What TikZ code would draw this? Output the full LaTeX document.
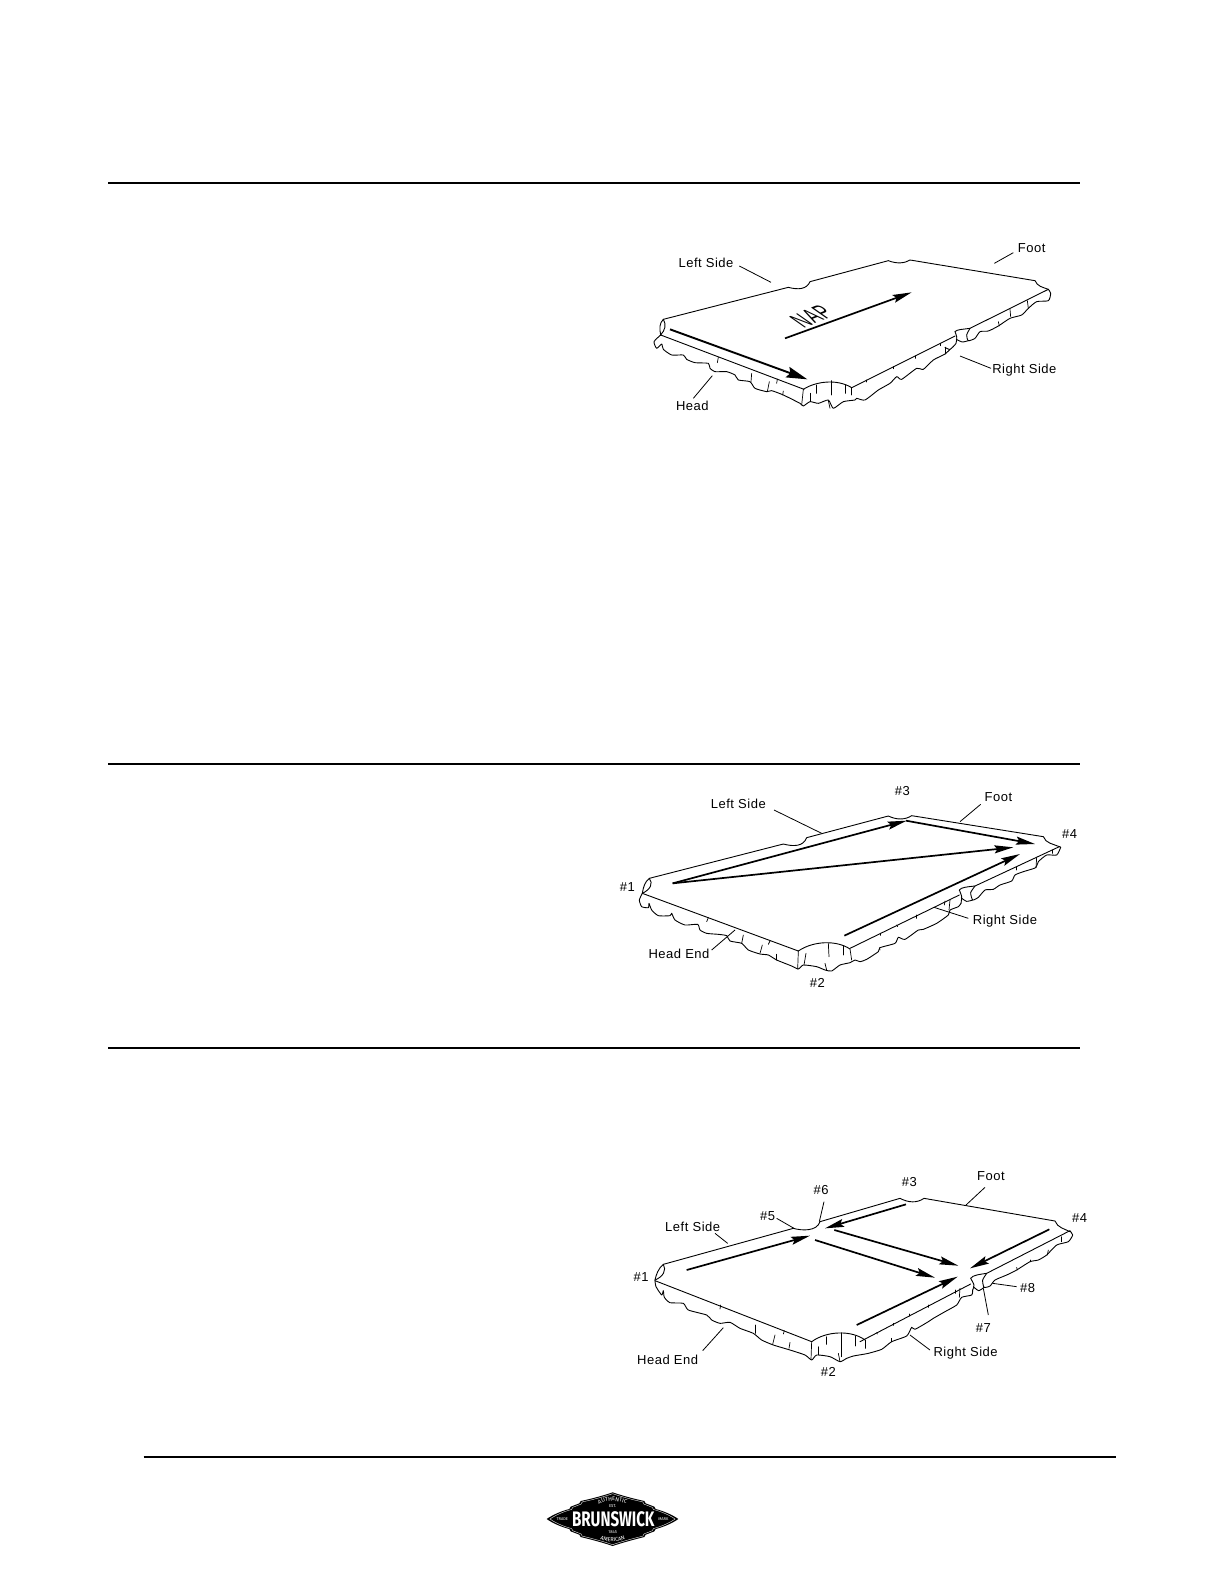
\documentclass[tikz,border=0pt]{standalone}
\usepackage{fontspec}
\setmainfont[LetterSpace=4]{Liberation Sans}
\newfontfamily\logofont{Fira Sans}
\usetikzlibrary{arrows.meta,decorations.text}
\tikzset{
  zoomunits/.style={x=0.33333pt,y=-0.33333pt},
  outline/.style={line width=0.9pt,line join=round,line cap=round,black},
  tickmark/.style={line width=0.7pt,line cap=round,black},
  leader/.style={line width=0.8pt,black},
  lbl/.style={font=\fontsize{13}{14}\selectfont,inner sep=0pt,black},
  flow/.style={line width=1.7pt,black,-{Stealth[length=19pt,width=8pt,inset=3pt]}},
  bigflow/.style={line width=1.9pt,black,-{Stealth[length=21pt,width=11pt,inset=3pt]}},
  rulebar/.style={line width=2pt,black},
  logotext/.style={inner sep=0pt,text=white},
}
\newcommand{\ticks}[1]{\foreach \a/\b/\c/\d in {#1} \draw[tickmark] (\a,\b)--(\c,\d);}
\newcommand{\logopath}{(50,117) .. controls (70,103) and (95,93) .. (118,87) -- (122,80) -- (148,70) -- (152,63) .. controls (190,55) and (225,45) .. (248,37) .. controls (271,45) and (306,55) .. (343,63) -- (347,70) -- (373,80) -- (377,87) .. controls (400,93) and (425,103) .. (445,117) .. controls (425,131) and (400,141) .. (377,147) -- (373,154) -- (347,164) -- (343,171) .. controls (306,180) and (271,190) .. (248,198) .. controls (225,190) and (190,180) .. (152,171) -- (148,164) -- (122,154) -- (118,147) .. controls (95,141) and (70,131) .. (50,117) -- cycle}
\begin{document}
\begin{tikzpicture}[x=1pt,y=-1pt]
\useasboundingbox (0,0) rectangle (1224,1584);
\fill[white] (0,0) rectangle (1224,1584);

% rules
\coordinate (r1a) at (108,183); \coordinate (r1b) at (1080,183);
\coordinate (r2a) at (108,764); \coordinate (r2b) at (1080,764);
\coordinate (r3a) at (108,1048); \coordinate (r3b) at (1080,1048);
\coordinate (r4a) at (143.5,1457); \coordinate (r4b) at (1116,1457);
\draw[rulebar] (r1a)--(r1b);
\draw[rulebar] (r2a)--(r2b);
\draw[rulebar] (r3a)--(r3b);
\draw[rulebar] (r4a)--(r4b);

% ===== Diagram 1 =====
\begin{scope}[shift={(630pt,-230pt)},zoomunits]
\draw[outline] (100,268) -- (475,172) .. controls (505,180) and (530,178) .. (540,155) -- (775,92) .. controls (800,102) and (825,100) .. (840,90) -- (1215,152) .. controls (1222,170) and (1240,172) .. (1255,178);
\draw[outline] (100,268) .. controls (88,280) and (88,295) .. (92,315);
\draw[outline] (100,268) .. controls (110,285) and (105,300) .. (92,315);
\draw[outline] (92,315) -- (522,478);
\draw[outline] (520,478) .. controls (555,455) and (620,445) .. (665,473);
\draw[outline] (665,473) -- (975,318);
\draw[outline] (975,305) .. controls (980,298) and (1000,298) .. (1020,295) -- (1255,178);
\draw[outline] plot[smooth,tension=.35] coordinates {(92,315)(72,335)(80,355)(95,342)(100,358)(125,375)(160,375)(170,388)(195,398)(235,400)(240,415)(255,425)(290,425)(315,435)(325,450)(360,455)(375,475)(410,485)(425,482)(460,495)(510,520)(520,528)(540,515)(565,520)(595,510)(610,535)(640,515)(675,510)(680,505)(705,510)(745,480)(780,460)(800,440)(815,448)(860,415)(880,418)(910,390)(945,372)(960,358)};
\draw[outline] plot[smooth,tension=.4] coordinates {(975,305)(980,320)(978,340)(960,358)(945,352)};
\draw[outline] plot[smooth,tension=.4] coordinates {(979,328)(997,336)(1015,332)};
\draw[outline] plot[smooth,tension=.4] coordinates {(1020,295)(1010,315)(1015,332)(1035,325)(1050,305)(1075,303)(1105,288)(1140,265)(1175,255)(1195,235)(1220,215)(1255,212)(1262,190)(1255,178)};
\ticks{265/382/262/398,365/430/363/455,418/455/412/485,442/447/440/460,460/483/458/495,520/478/515/525,560/465/560/490,605/452/605/495,645/465/645/490,540/490/540/515,595/512/600/535,665/473/665/495,708/450/708/456,790/410/790/416,855/378/855/385,930/340/930/347,945/352/945/372,1192/212/1195/235,1140/238/1142/260,1105/275/1108/288}
\coordinate (a1s) at (120,298); \coordinate (a1e) at (532,448);
\coordinate (a2s) at (465,325); \coordinate (a2e) at (845,187);
\draw[bigflow] (a1s)--(a1e);
\draw[flow] (a2s)--(a2e);
\node[font=\fontsize{16}{16}\selectfont,inner sep=0pt,cm={.93,.36,-1.43,1,(0,0)}] (nap) at (545,260) {NAP};
\node[lbl] (d1left) at (228,98) {Left Side};
\node[lbl] (d1foot) at (1205,53) {Foot};
\node[lbl] (d1right) at (1183,420) {Right Side};
\node[lbl] (d1head) at (187,527) {Head};
\coordinate (l1a) at (328,108); \coordinate (l1b) at (423,157);
\coordinate (l2a) at (1150,68); \coordinate (l2b) at (1093,100);
\coordinate (l3a) at (1083,415); \coordinate (l3b) at (990,378);
\coordinate (l4a) at (190,505); \coordinate (l4b) at (247,437);
\draw[leader] (l1a)--(l1b);
\draw[leader] (l2a)--(l2b);
\draw[leader] (l3a)--(l3b);
\draw[leader] (l4a)--(l4b);
\end{scope}

% ===== Diagram 2 =====
\begin{scope}[shift={(610pt,-770pt)},zoomunits]
\draw[outline] (118,325) -- (520,222) .. controls (550,230) and (580,230) .. (590,203) -- (835,138) .. controls (860,150) and (885,150) .. (905,137) -- (1300,200) .. controls (1307,220) and (1330,222) .. (1348,230);
\draw[outline] (118,325) .. controls (105,335) and (100,350) .. (97,370);
\draw[outline] (118,325) .. controls (130,340) and (122,358) .. (97,370);
\draw[outline] (97,370) -- (565,543);
\draw[outline] (565,543) .. controls (610,512) and (680,510) .. (720,537);
\draw[outline] (720,535) -- (1048,375);
\draw[outline] (1048,360) .. controls (1052,352) and (1075,350) .. (1095,348) -- (1348,230);
\draw[outline] plot[smooth,tension=.35] coordinates {(97,370)(88,390)(95,410)(115,413)(117,400)(125,420)(145,437)(180,437)(185,430)(195,450)(225,465)(263,463)(270,480)(290,490)(325,493)(350,497)(360,513)(395,520)(415,540)(450,552)(475,555)(500,570)(545,588)(565,597)(580,585)(620,590)(645,600)(665,603)(690,585)(720,578)(735,570)(750,575)(770,568)(805,545)(810,533)(855,520)(865,502)(885,508)(925,480)(940,478)(980,460)(1015,435)(1020,420)(1045,410)(1053,400)};
\draw[outline] plot[smooth,tension=.4] coordinates {(1048,360)(1055,380)(1053,400)};
\draw[outline] plot[smooth,tension=.4] coordinates {(1054,384)(1070,394)(1088,390)};
\draw[outline] plot[smooth,tension=.35] coordinates {(1095,348)(1082,368)(1088,390)(1105,382)(1125,360)(1150,358)(1170,345)(1205,333)(1215,315)(1240,305)(1277,293)(1285,275)(1310,255)(1340,255)(1352,232)(1348,230)};
\ticks{295/443/290/455,400/495/395/520,457/525/450/550,480/513/475/523,500/553/500/570,565/543/563/597,588/550/582/585,655/520/657/560,700/527/700/555,720/537/725/570,645/580/650/600,810/490/810/496,860/465/863/470,920/435/920/445,1005/393/1003/405,1020/390/1017/420,1220/292/1220/300,1280/262/1278/293,1328/240/1328/250,808/533/810/540}
\coordinate (b1s) at (188,340); \coordinate (b1e) at (890,152);
\coordinate (b2s) at (188,340); \coordinate (b2e) at (1210,232);
\coordinate (b3s) at (888,152); \coordinate (b3e) at (1275,222);
\coordinate (b4s) at (703,497); \coordinate (b4e) at (1230,252);
\draw[flow] (b1s)--(b1e);
\draw[flow] (b2s)--(b2e);
\draw[flow] (b3s)--(b3e);
\draw[flow] (b4s)--(b4e);
\node[lbl] (d2left) at (385,102) {Left Side};
\node[lbl] (d2n3) at (877,62) {\#3};
\node[lbl] (d2foot) at (1165,80) {Foot};
\node[lbl] (d2n4) at (1379,192) {\#4};
\node[lbl] (d2n1) at (52,350) {\#1};
\node[lbl] (d2right) at (1185,452) {Right Side};
\node[lbl] (d2head) at (207,552) {Head End};
\node[lbl] (d2n2) at (622,640) {\#2};
\coordinate (m1a) at (492,120); \coordinate (m1b) at (635,190);
\coordinate (m2a) at (1112,103); \coordinate (m2b) at (1050,155);
\coordinate (m3a) at (1075,445); \coordinate (m3b) at (972,412);
\coordinate (m4a) at (305,540); \coordinate (m4b) at (375,480);
\draw[leader] (m1a)--(m1b);
\draw[leader] (m2a)--(m2b);
\draw[leader] (m3a)--(m3b);
\draw[leader] (m4a)--(m4b);
\end{scope}

% ===== Diagram 3 =====
\begin{scope}[shift={(620pt,-1160pt)},zoomunits]
\draw[outline] (130,313) -- (520,205) .. controls (545,212) and (590,215) .. (600,185) -- (840,115) .. controls (865,128) and (890,130) .. (912,115) -- (1305,183) .. controls (1312,203) and (1335,207) .. (1350,215);
\draw[outline] (130,313) .. controls (115,325) and (108,345) .. (105,360);
\draw[outline] (130,313) .. controls (140,330) and (130,350) .. (105,360);
\draw[outline] (105,362) -- (575,545);
\draw[outline] (575,545) .. controls (620,512) and (695,510) .. (735,540);
\draw[outline] (720,545) -- (1052,372);
\draw[outline] (1052,355) .. controls (1058,345) and (1080,343) .. (1100,340) -- (1350,212);
\draw[outline] plot[smooth,tension=.35] coordinates {(105,362)(108,380)(125,405)(130,392)(133,412)(150,428)(190,430)(205,450)(260,465)(275,480)(300,490)(330,487)(360,505)(400,520)(425,540)(460,555)(510,570)(555,585)(575,600)(590,585)(630,590)(660,605)(680,595)(700,588)(735,582)(745,580)(785,568)(815,545)(860,528)(875,502)(885,508)(925,485)(940,475)(975,455)(1010,435)(1025,412)(1055,405)(1058,390)};
\draw[outline] plot[smooth,tension=.4] coordinates {(1052,355)(1062,375)(1058,390)};
\draw[outline] plot[smooth,tension=.4] coordinates {(1060,380)(1076,392)(1092,382)};
\draw[outline] plot[smooth,tension=.35] coordinates {(1100,340)(1088,360)(1092,382)(1110,378)(1125,360)(1160,345)(1190,330)(1230,305)(1255,300)(1280,285)(1310,255)(1345,245)(1358,225)(1350,213)};
\ticks{302/435/300/447,405/495/405/520,493/512/490/522,465/525/458/553,510/547/507/565,575/545/573/598,618/530/618/553,665/518/665/590,707/528/707/558,595/560/595/585,655/580/660/605,735/540/735/565,770/518/772/522,820/490/820/496,867/462/867/468,925/435/925/442,1005/390/1005/400,1020/385/1018/412,1190/322/1192/330,1230/300/1230/305,1285/270/1282/285,1325/230/1325/245,815/535/815/545}
\coordinate (c1s) at (200,330); \coordinate (c1e) at (570,227);
\coordinate (c2s) at (858,133); \coordinate (c2e) at (615,205);
\coordinate (c3s) at (643,210); \coordinate (c3e) at (1015,317);
\coordinate (c4s) at (585,240); \coordinate (c4e) at (945,353);
\coordinate (c5s) at (1288,208); \coordinate (c5e) at (1050,325);
\coordinate (c6s) at (710,495); \coordinate (c6e) at (1013,350);
\draw[flow] (c1s)--(c1e);
\draw[flow] (c2s)--(c2e);
\draw[flow] (c3s)--(c3e);
\draw[flow] (c4s)--(c4e);
\draw[flow] (c5s)--(c5e);
\draw[flow] (c6s)--(c6e);
\node[lbl] (d3foot) at (1113,48) {Foot};
\node[lbl] (d3n3) at (868,67) {\#3};
\node[lbl] (d3n6) at (603,90) {\#6};
\node[lbl] (d3n5) at (443,167) {\#5};
\node[lbl] (d3left) at (218,200) {Left Side};
\node[lbl] (d3n1) at (63,352) {\#1};
\node[lbl] (d3n4) at (1379,174) {\#4};
\node[lbl] (d3n8) at (1223,385) {\#8};
\node[lbl] (d3n7) at (1090,503) {\#7};
\node[lbl] (d3right) at (1037,580) {Right Side};
\node[lbl] (d3head) at (143,600) {Head End};
\node[lbl] (d3n2) at (625,637) {\#2};
\coordinate (n1a) at (1095,82); \coordinate (n1b) at (1038,135);
\coordinate (n2a) at (285,220); \coordinate (n2b) at (323,250);
\coordinate (n3a) at (470,175); \coordinate (n3b) at (522,205);
\coordinate (n4a) at (612,125); \coordinate (n4b) at (598,185);
\coordinate (n5a) at (1190,380); \coordinate (n5b) at (1118,370);
\coordinate (n6a) at (1105,465); \coordinate (n6b) at (1090,385);
\coordinate (n7a) at (930,570); \coordinate (n7b) at (870,525);
\coordinate (n8a) at (248,572); \coordinate (n8b) at (310,503);
\draw[leader] (n1a)--(n1b);
\draw[leader] (n2a)--(n2b);
\draw[leader] (n3a)--(n3b);
\draw[leader] (n4a)--(n4b);
\draw[leader] (n5a)--(n5b);
\draw[leader] (n6a)--(n6b);
\draw[leader] (n7a)--(n7b);
\draw[leader] (n8a)--(n8b);
\end{scope}

% ===== Logo =====
\begin{scope}[shift={(530pt,-1480pt)},zoomunits]
\fill[black] \logopath;
\begin{scope}[shift={(4.13pt,-1.96pt)},xscale=.95,yscale=.95]
\draw[white,line width=.35pt] \logopath;
\end{scope}
\node[logotext,font=\logofont\bfseries\fontsize{21}{21}\selectfont,xscale=0.72] (brand) at (250,118) {BRUNSWICK};
\node[logotext,font=\logofont\fontsize{4.2}{5}\selectfont] (est) at (248,79) {EST.};
\node[logotext,font=\logofont\fontsize{4.2}{5}\selectfont] (year) at (248,155) {1845};
\node[logotext,font=\logofont\fontsize{4}{5}\selectfont] (trade) at (97,117) {TRADE};
\node[logotext,font=\logofont\fontsize{4}{5}\selectfont] (mark) at (400,117) {MARK};
\path[decorate,decoration={text along path,text align=center,text={|\logofont\fontsize{5.6}{6}\selectfont\color{white}|AUTHENTIC}}] (190,84) .. controls (218,56) and (278,56) .. (305,84);
\path[decorate,decoration={text along path,text align=center,text={|\logofont\fontsize{5.6}{6}\selectfont\color{white}|AMERICAN}}] (190,163) .. controls (218,192) and (278,192) .. (306,163);
\end{scope}
\end{tikzpicture}
\end{document}
